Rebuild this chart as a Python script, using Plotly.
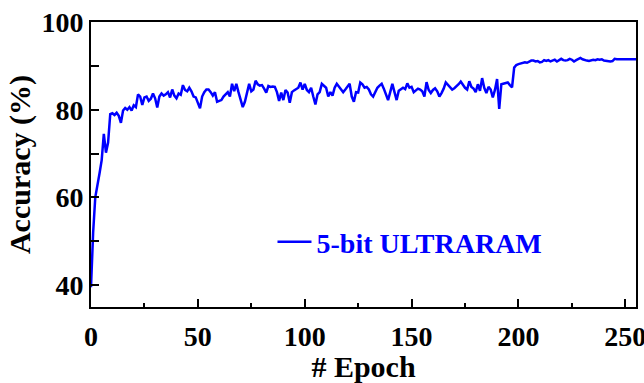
import plotly.graph_objects as go

accuracy = [
    39.5, 52.0, 60.0, 62.5, 65.5, 68.5, 74.5, 70.2, 72.5, 79.0,
    79.2, 78.8, 79.3, 78.6, 77.0, 79.8, 80.4, 80.0, 80.6, 79.8,
    81.0, 80.6, 83.5, 83.0, 81.1, 82.8, 83.0, 82.0, 82.5, 83.7,
    82.6, 80.5, 83.0, 83.7, 83.2, 83.5, 84.0, 82.8, 84.6, 83.2,
    82.6, 83.7, 83.4, 85.6, 84.5, 84.2, 85.0, 84.2, 83.0, 82.8,
    81.5, 80.3, 83.0, 84.0, 84.6, 84.6, 84.0, 83.2, 84.0, 81.8,
    82.0, 82.2, 83.0, 83.5, 84.0, 83.0, 85.9, 84.2, 85.9, 84.0,
    82.5, 80.6, 81.8, 84.0, 85.9, 84.2, 84.6, 86.6, 85.8, 85.5,
    85.6, 84.8, 83.9, 85.4, 85.2, 85.3, 85.2, 84.0, 82.0, 83.9,
    82.2, 84.5, 83.9, 81.6, 84.0, 84.4, 84.8, 85.0, 86.2, 84.6,
    85.9, 84.5, 84.0, 85.0, 83.0, 81.2, 83.5, 84.0, 85.9, 85.4,
    85.0, 83.0, 84.0, 83.2, 85.0, 85.9, 85.2, 84.5, 84.0, 84.6,
    85.4, 85.9, 83.0, 81.8, 84.0, 83.9, 86.2, 85.8, 85.0, 85.2,
    84.6, 83.5, 83.0, 84.2, 85.0, 85.5, 85.9, 84.8, 83.5, 82.2,
    84.0, 85.9, 84.0, 82.2, 84.3, 84.6, 85.0, 84.7, 86.0, 85.0,
    85.2, 84.0, 84.3, 84.8, 84.6, 84.2, 83.0, 86.3, 84.5, 83.8,
    84.5, 84.9, 84.2, 83.0, 83.8, 84.8, 86.2, 85.6, 85.0, 84.6,
    84.9, 85.3, 85.8, 86.4, 85.6, 85.0, 84.6, 86.5, 85.2, 84.8,
    84.0, 85.8, 84.3, 87.2, 85.0, 83.8, 85.2, 84.6, 82.8, 84.5,
    87.0, 80.2, 85.8, 85.9, 86.0, 86.2, 85.6, 85.1, 89.6, 90.2,
    90.4, 90.5, 90.7, 90.8, 90.7, 91.0, 91.2, 91.2, 91.0, 91.1,
    90.8, 90.9, 91.3, 91.1, 91.3, 91.0, 91.2, 91.4, 91.0, 91.3,
    91.6, 91.3, 91.2, 91.3, 91.6, 91.4, 91.0, 91.3, 91.5, 91.8,
    91.5, 91.3, 91.2, 91.1, 91.3, 91.4, 91.3, 91.5, 91.4, 91.5,
    91.2, 91.1, 91.1, 91.0, 91.1, 91.6, 91.5, 91.5, 91.5, 91.5,
    91.5, 91.5, 91.5, 91.5, 91.5, 91.5,
]
epochs = list(range(len(accuracy)))

y_tickvals = [40, 50, 60, 70, 80, 90, 100]
y_ticktext = ["40", "", "60", "", "80", "", "100"]
x_tickvals = [0, 50, 100, 150, 200, 250]
x_ticktext = ["0", "50", "100", "150", "200", "250"]

series_name = "5-bit ULTRARAM"

FONT = "Liberation Serif, Times New Roman, serif"

fig = go.Figure()
fig.add_trace(go.Scatter(
    x=epochs, y=accuracy, mode="lines", name=series_name,
    line=dict(color="#0000ff", width=2.5),
))

fig.update_layout(
    width=644, height=383,
    margin=dict(l=91, r=8, t=22, b=76, autoexpand=False),
    paper_bgcolor="white", plot_bgcolor="white",
    font=dict(family=FONT, color="black", size=28, weight="bold"),
    showlegend=True,
    legend=dict(
        x=0.333, y=0.228, xanchor="left", yanchor="middle",
        bgcolor="rgba(0,0,0,0)", itemwidth=34,
        font=dict(family=FONT, size=28, color="#0000ff", weight="bold"),
    ),
)

fig.update_xaxes(
    range=[0, 255], automargin=False,
    tickvals=x_tickvals, ticktext=x_ticktext,
    ticks="inside", ticklen=8, tickwidth=2, tickcolor="black",
    ticklabeloverflow="allow", ticklabelstandoff=3,
    minor=dict(dtick=25, tick0=0, ticks="inside", ticklen=4, tickwidth=2, tickcolor="black"),
    showline=True, linewidth=2, linecolor="black", mirror=True,
    showgrid=False, zeroline=False,
    tickfont=dict(family=FONT, size=28, weight="bold"),
    title=dict(text="# Epoch", font=dict(family=FONT, size=30, weight="bold"), standoff=0),
)
fig.update_yaxes(
    range=[35, 100],
    tickvals=y_tickvals, ticktext=y_ticktext,
    ticks="inside", ticklen=8, tickwidth=2, tickcolor="black",
    showline=True, linewidth=2, linecolor="black", mirror=True,
    showgrid=False, zeroline=False,
    tickfont=dict(family=FONT, size=28, weight="bold"),
    title=dict(text="Accuracy (%)", font=dict(family=FONT, size=30, weight="bold"), standoff=2),
)

fig.write_html("out.html")
